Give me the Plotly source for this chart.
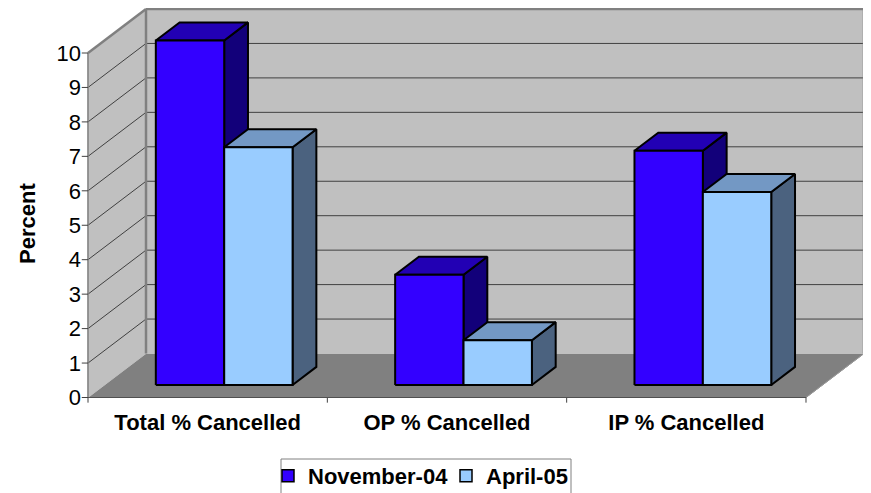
import plotly.graph_objects as go

# ---------------- data ----------------
categories = ["Total % Cancelled", "OP % Cancelled", "IP % Cancelled"]
nov_04 = [10.0, 3.2, 6.8]
apr_05 = [6.9, 1.3, 5.6]
y_ticks = list(range(0, 11))
series_names = ["November-04", "April-05"]

# ---------------- styling / geometry ----------------
PAGE_W, PAGE_H = 871, 493
OFF = 8                      # default body margin of the html page
W, H = PAGE_W - OFF, PAGE_H - OFF
PX = 239.33          # px per category (front plane)
PY = 34.45           # px per percent unit
DX, DY = 58 / PX, 44 / PY   # full depth of the 3-D box, in data units
F0, F1 = 0.285, 0.695       # bar depth (front / back) as fraction of DX,DY
BW = 1 / 3.5                # bar width (gap width 150%)
YMAX = 10
NCAT = len(categories)

FONT = "Liberation Sans, Arial, sans-serif"
FS = 22
WALL = "#C0C0C0"
FLOOR = "#808080"
EDGE = "#808080"
GRID = "#404040"
faces = {
    "November-04": dict(front="#3300FF", top="#2200B4", side="#12007A"),
    "April-05": dict(front="#99CCFF", top="#7398C4", side="#4B627F"),
}

fig = go.Figure()


def poly(xs, ys, fill, line_color, line_width):
    xs = list(xs) + [xs[0]]
    ys = list(ys) + [ys[0]]
    fig.add_trace(go.Scatter(x=xs, y=ys, mode="lines", fill="toself",
                             fillcolor=fill,
                             line=dict(color=line_color, width=line_width),
                             hoverinfo="skip", showlegend=False))


def segs(pairs, color, width):
    xs, ys = [], []
    for (x0, y0), (x1, y1) in pairs:
        xs += [x0, x1, None]
        ys += [y0, y1, None]
    fig.add_trace(go.Scatter(x=xs, y=ys, mode="lines",
                             line=dict(color=color, width=width),
                             hoverinfo="skip", showlegend=False))


# walls and floor
poly([0, NCAT, NCAT + DX, DX], [0, 0, DY, DY], FLOOR, FLOOR, 1)
poly([0, DX, DX, 0], [0, DY, YMAX + DY, YMAX], WALL, WALL, 1)
poly([DX, NCAT + DX, NCAT + DX, DX], [DY, DY, YMAX + DY, YMAX + DY], WALL, WALL, 1)

# gridlines (left wall + back wall)
grid = []
for k in y_ticks[1:-1]:
    grid.append(((0, k), (DX, k + DY)))
    grid.append(((DX, k + DY), (NCAT + DX, k + DY)))
segs(grid, GRID, 1)

# wall edges
segs([((0, YMAX), (DX, YMAX + DY)),
      ((DX, YMAX + DY), (NCAT + DX, YMAX + DY)),
      ((NCAT + DX, YMAX + DY), (NCAT + DX, DY)),
      ((DX, DY), (DX, YMAX + DY))], EDGE, 2.5)
segs([((0, 0), (0, YMAX))], EDGE, 1.5)
segs([((NCAT + DX, DY), (NCAT, 0))], "#9A9A9A", 1)

# axis ticks
segs([((-0.026, k), (0, k)) for k in y_ticks], GRID, 1)
segs([((i, 0), (i, -0.15)) for i in range(NCAT + 1)], GRID, 1)
segs([((0, 0), (NCAT, 0))], "#505050", 1)

# bars (3-D boxes)
for i in range(NCAT):
    c = i + 0.5
    for j, (name, vals) in enumerate(zip(series_names, [nov_04, apr_05])):
        v = vals[i]
        L = c - BW + j * BW
        R = L + BW
        col = faces[name]
        x0l, x0r = L + F0 * DX, R + F0 * DX
        x1l, x1r = L + F1 * DX, R + F1 * DX
        yb0, yb1 = F0 * DY, F1 * DY
        poly([x0r, x1r, x1r, x0r], [yb0, yb1, v + yb1, v + yb0], col["side"], "black", 2)
        poly([x0l, x0r, x1r, x1l], [v + yb0, v + yb0, v + yb1, v + yb1], col["top"], "black", 2)
        poly([x0l, x0r, x0r, x0l], [yb0, yb0, v + yb0, v + yb0], col["front"], "black", 2)

# legend entries (each in its own legend box for tight spacing)
legend_ids = ["legend", "legend2"]
for name, lid in zip(series_names, legend_ids):
    fig.add_trace(go.Bar(x=[None], y=[None], name=name, legend=lid,
                         marker=dict(color=faces[name]["front"],
                                     line=dict(color="black", width=1.5)),
                         hoverinfo="skip"))

# plot area, page pixels
P_L, P_R, P_T, P_B = 80, 868, 8, 403
L_M, R_M, T_M, B_M = P_L - OFF, W - (P_R - OFF), P_T - OFF, H - (P_B - OFF)
plot_w = P_R - P_L
plot_h = P_B - P_T
x_min = -(88 - P_L) / PX
x_max = x_min + plot_w / PX
y_min = -(P_B - 397.5) / PY
y_max = y_min + plot_h / PY


def px2paper_x(px):
    return (px - P_L) / plot_w


def px2paper_y(py):
    return (P_B - py) / plot_h


def legend_box(x_px):
    return dict(orientation="h", x=px2paper_x(x_px), xanchor="left",
                y=px2paper_y(455), yanchor="top",
                bgcolor="rgba(0,0,0,0)", borderwidth=0,
                font=dict(family=FONT, size=FS, color="black", weight="bold"),
                itemwidth=30)


fig.update_layout(
    width=W, height=H,
    margin=dict(l=L_M, r=R_M, t=T_M, b=B_M, autoexpand=False),
    paper_bgcolor="white", plot_bgcolor="white",
    font=dict(family=FONT, color="black"),
    showlegend=True,
    legend=legend_box(268),
    legend2=legend_box(446),
    shapes=[dict(type="rect", xref="paper", yref="paper",
                 x0=px2paper_x(281), x1=px2paper_x(571),
                 y0=px2paper_y(459), y1=px2paper_y(505),
                 line=dict(color="#808080", width=1), fillcolor="rgba(0,0,0,0)",
                 layer="above")],
    xaxis=dict(range=[x_min, x_max], tickmode="array",
               tickvals=[i + 0.5 for i in range(NCAT)], ticktext=categories,
               ticks="", showgrid=False, zeroline=False, showline=False,
               tickfont=dict(family=FONT, size=FS, color="black", weight="bold"),
               ticklabelstandoff=4, fixedrange=True, automargin=False),
    yaxis=dict(range=[y_min, y_max], tickmode="array", tickvals=y_ticks,
               ticktext=[str(t) for t in y_ticks],
               ticks="", showgrid=False, zeroline=False, showline=False,
               tickfont=dict(family=FONT, size=FS, color="black"),
               ticklabelstandoff=-2, fixedrange=True, automargin=False),
    annotations=[dict(text="<b>Percent</b>", textangle=-90, xref="paper", yref="paper",
                      x=px2paper_x(27), y=px2paper_y(224),
                      xanchor="center", yanchor="middle", showarrow=False,
                      font=dict(family=FONT, size=FS, color="black"))],
)

fig.write_html("out.html")
